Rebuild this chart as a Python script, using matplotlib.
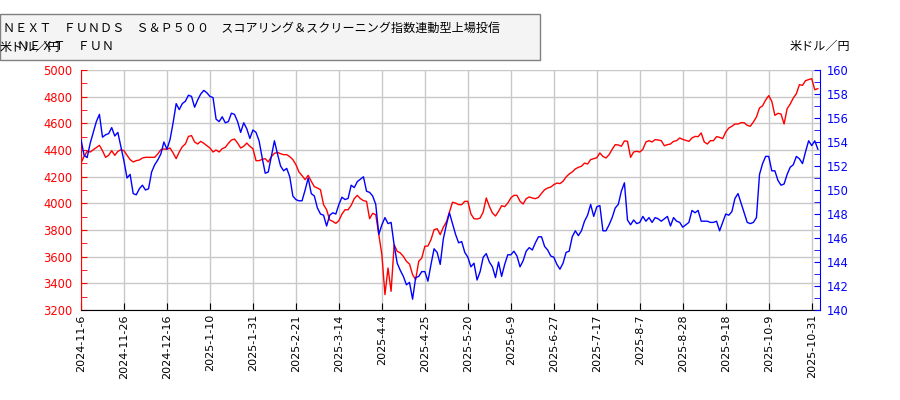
import matplotlib
matplotlib.use("Agg")
import matplotlib.pyplot as plt
from matplotlib.patches import Rectangle

cjk = ['Noto Sans CJK JP', 'DejaVu Sans']

fund_name = "ＮＥＸＴ　ＦＵＮＤＳ　Ｓ＆Ｐ５００　スコアリング＆スクリーニング指数連動型上場投信"
fx_name = "米ドル／円"
cut_name = "ＮＥＸＴ　ＦＵＮ"   # legend label that gets cut off and overlaps

# one label every 14 trading days
date_labels = ["2024-11-6", "2024-11-26", "2024-12-16", "2025-1-10", "2025-1-31",
               "2025-2-21", "2025-3-14", "2025-4-4", "2025-4-25", "2025-5-20",
               "2025-6-9", "2025-6-27", "2025-7-17", "2025-8-7", "2025-8-28",
               "2025-9-18", "2025-10-9", "2025-10-31"]

# ETF price (yen), left axis
etf_price = [
    4303, 4352, 4390, 4385, 4402, 4420, 4435, 4395, 4345, 4360,
    4395, 4360, 4390, 4402, 4395, 4360, 4328, 4310, 4320, 4325,
    4340, 4345, 4345, 4345, 4345, 4370, 4402, 4408, 4405, 4415,
    4378, 4335, 4385, 4425, 4445, 4502, 4508, 4460, 4445, 4465,
    4450, 4432, 4415, 4385, 4400, 4385, 4410, 4420, 4450, 4475,
    4482, 4452, 4415, 4428, 4452, 4428, 4410, 4320, 4320, 4330,
    4335, 4310, 4350, 4375, 4382, 4372, 4365, 4365, 4350, 4328,
    4290, 4235, 4208, 4178, 4210, 4165, 4125, 4115, 4102, 3990,
    3952, 3875, 3865, 3850, 3870, 3920, 3952, 3952, 3985, 4035,
    4060, 4035, 4020, 4015, 3885, 3925, 3915, 3765, 3615, 3315,
    3515, 3340, 3690, 3640, 3628, 3602, 3565, 3545, 3465, 3428,
    3565, 3590, 3678, 3680, 3728, 3802, 3810, 3765, 3820, 3860,
    3935, 4008, 4002, 3990, 3990, 4015, 4015, 3920, 3885, 3882,
    3890, 3935, 4040, 3978, 3928, 3905, 3940, 3982, 3975, 4002,
    4040, 4060, 4060, 4015, 3995, 4035, 4048, 4040, 4035, 4045,
    4075, 4102, 4115, 4122, 4140, 4152, 4148, 4165, 4198, 4220,
    4235, 4258, 4270, 4278, 4302, 4295, 4328, 4335, 4342, 4378,
    4352, 4340, 4365, 4405, 4440, 4438, 4428, 4468, 4465, 4345,
    4385, 4390, 4385, 4405, 4460, 4470, 4460, 4478, 4475, 4470,
    4432, 4440, 4445, 4465, 4470, 4490, 4480, 4472, 4465, 4490,
    4502, 4500, 4528, 4460, 4445, 4470, 4470, 4500, 4495, 4485,
    4535, 4565, 4578, 4595, 4595, 4605, 4605, 4585, 4578, 4610,
    4648, 4715, 4732, 4775, 4808, 4765, 4660, 4675, 4670, 4595,
    4710, 4745, 4790, 4822, 4890, 4885, 4920, 4928, 4935, 4852,
    4860,
]

# USD/JPY, right axis
usdjpy = [
    154.2, 152.9, 152.7, 153.9, 154.8, 155.7, 156.3, 154.4, 154.6, 154.7,
    155.2, 154.5, 154.8, 153.6, 152.4, 151.0, 151.3, 149.7, 149.6, 150.1,
    150.4, 150.0, 150.1, 151.5, 152.1, 152.5, 153.0, 154.0, 153.4, 154.2,
    155.6, 157.2, 156.7, 157.2, 157.4, 157.9, 157.8, 156.9, 157.5, 158.0,
    158.3, 158.1, 157.8, 157.7, 155.9, 155.7, 156.1, 155.6, 155.7, 156.4,
    156.3, 155.7, 154.8, 155.6, 155.1, 154.3, 155.0, 154.8, 154.1, 152.7,
    151.4, 151.5, 152.8, 154.1, 153.0, 152.0, 151.6, 151.8, 151.1, 149.5,
    149.2, 149.1, 149.1, 150.0, 151.0, 149.7, 149.5, 148.5, 148.0, 147.9,
    147.0, 147.9, 148.1, 148.0, 148.8, 149.4, 149.2, 149.3, 150.4, 150.2,
    150.7, 150.9, 151.1, 149.9, 149.8, 149.5, 148.8, 146.3, 147.1, 147.7,
    147.2, 147.3, 145.4, 143.9, 143.3, 142.8, 142.1, 142.3, 140.9, 142.7,
    142.8, 143.2, 143.2, 142.4, 143.8, 145.1, 144.8, 143.8, 145.9, 147.1,
    148.1, 147.2, 146.3, 145.6, 145.7, 144.8, 144.4, 143.6, 143.9, 142.5,
    143.2, 144.4, 144.7, 144.0, 143.6, 142.7, 144.0, 142.8, 143.8, 144.6,
    144.6, 144.9, 144.5, 143.6, 144.1, 144.9, 145.2, 145.0, 145.6, 146.1,
    146.1, 145.3, 145.0, 144.5, 144.4, 143.8, 143.4, 143.9, 144.8, 144.9,
    146.1, 146.6, 146.2, 146.6, 147.4, 147.9, 148.8, 147.8, 148.6, 148.7,
    146.6, 146.6, 147.1, 147.7, 148.5, 148.8, 149.9, 150.6, 147.5, 147.1,
    147.5, 147.2, 147.3, 147.8, 147.4, 147.7, 147.3, 147.7, 147.6, 147.4,
    147.6, 147.8, 147.0, 147.7, 147.4, 147.3, 146.9, 147.1, 147.3, 148.3,
    148.1, 148.3, 147.4, 147.4, 147.4, 147.3, 147.3, 147.4, 146.6, 147.3,
    148.0, 147.9, 148.2, 149.3, 149.7, 148.9, 148.1, 147.3, 147.2, 147.3,
    147.7, 151.3, 152.2, 152.8, 152.8, 151.6, 151.6, 150.8, 150.4, 150.5,
    151.3, 151.9, 152.1, 152.8, 152.6, 152.2, 153.2, 154.1, 153.7, 154.1,
    153.4,
]

fig = plt.figure(figsize=(9, 4), dpi=100)
ax = fig.add_axes([81/900, 90/400, 739/900, 240/400])
ax2 = ax.twinx()

x = list(range(len(etf_price)))
ax.plot(x, etf_price, color='red', lw=1)
ax2.plot(x, usdjpy, color='blue', lw=1)

ax.set_xlim(0, 240.7)
ax.set_ylim(3200, 5000)
ax2.set_ylim(140, 160)

ax.set_xticks([14*k for k in range(len(date_labels))])
ax.set_xticklabels(date_labels, rotation=90, fontsize=8)
ax.set_yticks(range(3200, 5001, 200))
ax.set_yticks(range(3200, 5001, 100), minor=True)
ax2.set_yticks(range(140, 161, 2))
ax2.set_yticks(range(140, 161, 1), minor=True)

ax.grid(True, which='major', color='#c8c8c8', lw=1)
ax.set_axisbelow(True)

ax.tick_params(axis='x', direction='in', length=5, pad=3, colors='black')
ax.tick_params(axis='y', which='both', direction='in', length=4, pad=6,
               colors='red', labelsize=8.3)
ax2.tick_params(axis='y', which='both', direction='in', length=4, pad=5,
                colors='blue', labelsize=8.3)

for a in (ax, ax2):
    a.spines['top'].set_visible(False)
ax.spines['right'].set_visible(False)
ax.spines['left'].set_color('red')
ax2.spines['left'].set_visible(False)
ax2.spines['right'].set_color('blue')
ax2.spines['bottom'].set_visible(False)

# legend box at top left
fig.add_artist(Rectangle((0, 1-60/400), 540/900, 46/400, transform=fig.transFigure,
                         facecolor='#f4f4f4', edgecolor='#808080', lw=1))
fig.text(3/900, 1-28/400, fund_name, va='center', fontsize=8.7, family=cjk)
fig.text(0/900, 1-47/400, fx_name, va='center', fontsize=8.7, family=cjk)
fig.text(17/900, 1-47/400, cut_name, va='center', fontsize=8.7, family=cjk)

fig.text(820/900, 1-46/400, fx_name, ha='center', va='center', fontsize=8.7, family=cjk)

fig.savefig("out.png", dpi=100)
